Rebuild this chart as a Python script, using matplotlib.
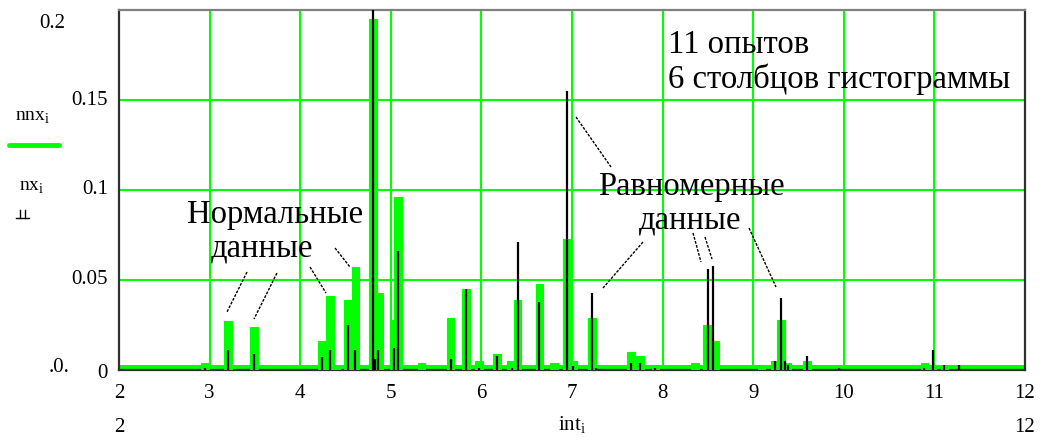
import matplotlib
matplotlib.use("Agg")
import matplotlib.pyplot as plt
from matplotlib.lines import Line2D
import numpy as np

# ---- data ----
# green series nnx_i (histogram of normal data)
nnx_x = [2.95, 3.20, 3.49, 4.24, 4.33, 4.40, 4.53, 4.61, 4.80, 4.87, 5.03, 5.08,
         5.34, 5.66, 5.83, 5.97, 6.17, 6.33, 6.40, 6.64, 6.80, 6.94, 7.01, 7.22,
         7.65, 7.75, 7.92, 8.36, 8.49, 8.58, 9.09, 9.24, 9.31, 9.37, 9.59,
         10.89, 10.98, 11.11]
nnx_y = [0.004, 0.027, 0.024, 0.016, 0.041, 0.002, 0.039, 0.057, 0.195, 0.043, 0.028, 0.096,
         0.004, 0.029, 0.045, 0.005, 0.009, 0.005, 0.039, 0.048, 0.004, 0.073, 0.005, 0.029,
         0.010, 0.008, 0.003, 0.004, 0.025, 0.016, 0.003, 0.005, 0.028, 0.004, 0.005,
         0.004, 0.002, 0.002]
# black series nx_i (histogram of uniform data)
nx_x = [2.95, 3.20, 3.49, 4.24, 4.33, 4.53, 4.61, 4.80, 4.83, 4.86, 5.03, 5.08,
        5.66, 5.83, 5.97, 6.17, 6.34, 6.40, 6.64, 6.94, 7.01, 7.22, 7.26,
        7.65, 7.75, 7.92, 8.50, 8.56, 9.24, 9.31, 9.35, 9.38, 9.59, 9.95,
        10.89, 10.98, 11.11, 11.27]
nx_y = [0.001, 0.011, 0.009, 0.007, 0.011, 0.025, 0.011, 0.21, 0.006, 0.011, 0.012, 0.066,
        0.006, 0.045, 0.001, 0.008, 0.001, 0.071, 0.038, 0.155, 0.002, 0.043, 0.001,
        0.004, 0.004, 0.001, 0.056, 0.058, 0.005, 0.040, 0.005, 0.003, 0.008, 0.001,
        0.001, 0.011, 0.003, 0.003]

x_ticks = [2, 3, 4, 5, 6, 7, 8, 9, 10, 11, 12]
y_ticks = [0.05, 0.1, 0.15]
y_tick_labels = ["0.05", "0.1", "0.15"]

GREEN = "#00ff00"
W, H = 1045, 437
SERIF = ["Liberation Serif", "DejaVu Serif"]
plt.rcParams["font.family"] = SERIF
plt.rcParams["mathtext.fontset"] = "custom"
plt.rcParams["mathtext.rm"] = "Liberation Serif"

fig = plt.figure(figsize=(W / 100, H / 100), dpi=100)
L, R, B, T = 119, 1025, 370, 10
ax = fig.add_axes([L / W, 1 - B / H, (R - L) / W, (B - T) / H])
ax.set_xlim(2, 12)
ax.set_ylim(0, 0.2)

# grid
for gx in x_ticks[1:-1]:
    ax.axvline(gx, color=GREEN, lw=1.5, zorder=1)
for gy in y_ticks:
    ax.axhline(gy, color=GREEN, lw=1.5, zorder=1)

# green baseline (zero values of nnx) and bars
ax.axhspan(0, 0.0028, color=GREEN, lw=0, zorder=2)
ax.bar(nnx_x, nnx_y, width=0.085, color=GREEN, edgecolor=GREEN, lw=0.8, zorder=3)
# black stems
ax.vlines(nx_x, 0, nx_y, color="black", lw=1.6, zorder=4, clip_on=True)

ax.set_xticks([])
ax.set_yticks([])
for s in ax.spines.values():
    s.set_color("#303030")
    s.set_linewidth(1.6)
ax.spines["top"].set_color("#808080")


def ftext(px, py, s, size, ha="left", va="center", **kw):
    fig.text(px / W, 1 - py / H, s, fontsize=size, ha=ha, va=va, **kw)


def fline(pts, **kw):
    xs = [p[0] / W for p in pts]
    ys = [1 - p[1] / H for p in pts]
    fig.add_artist(Line2D(xs, ys, transform=fig.transFigure, **kw))


# y tick labels
for v, lab in zip(y_ticks, y_tick_labels):
    py = B - v / 0.2 * (B - T)
    ftext(108, py, lab, 15, ha="right")
ftext(108, 374, "0", 15, ha="right")
ftext(65, 24, "0.2", 15, ha="right")
ftext(70, 368, ".0.", 15, ha="right")

# x tick labels
for v in x_ticks:
    px = L + (v - 2) / 10 * (R - L)
    ftext(px, 393, str(v), 15, ha="center")
ftext(L, 427, "2", 15, ha="center")
ftext(R, 427, "12", 15, ha="center")
ftext((L + R) / 2, 425, r"int$_\mathregular{i}$", 15, ha="center")

# legend at left
ftext(33, 118, r"nnx$_\mathregular{i}$", 14, ha="center")
fline([(9, 145), (59, 145)], color=GREEN, lw=3.5, solid_capstyle="round")
ftext(32, 188, r"nx$_\mathregular{i}$", 14, ha="center")
fline([(16, 218), (29, 218)], color="black", lw=1)
fline([(20, 218), (20, 210)], color="black", lw=1)
fline([(25, 218), (25, 210)], color="black", lw=1)

# annotations
FS = 23.5
ftext(668, 45, "11 опытов", FS)
ftext(668, 79, "6 столбцов гистограммы", FS)
ftext(275, 215, "Нормальные", FS, ha="center")
ftext(262, 248, "данные", FS, ha="center")
ftext(691, 187, "Равномерные", FS, ha="center")
ftext(690, 220, "данные", FS, ha="center")

dash = dict(color="black", lw=1, linestyle=(0, (2, 1)))
fline([(247, 272), (227, 312)], **dash)
fline([(277, 273), (254, 319)], **dash)
fline([(310, 267), (326, 293)], **dash)
fline([(335, 248), (350, 267)], **dash)
fline([(576, 117), (611, 167)], **dash)
fline([(643, 242), (603, 288)], **dash)
fline([(693, 233), (701, 262)], **dash)
fline([(705, 237), (712, 259)], **dash)
fline([(749, 228), (776, 287)], **dash)

fig.savefig("out.png", dpi=100, facecolor="white")
